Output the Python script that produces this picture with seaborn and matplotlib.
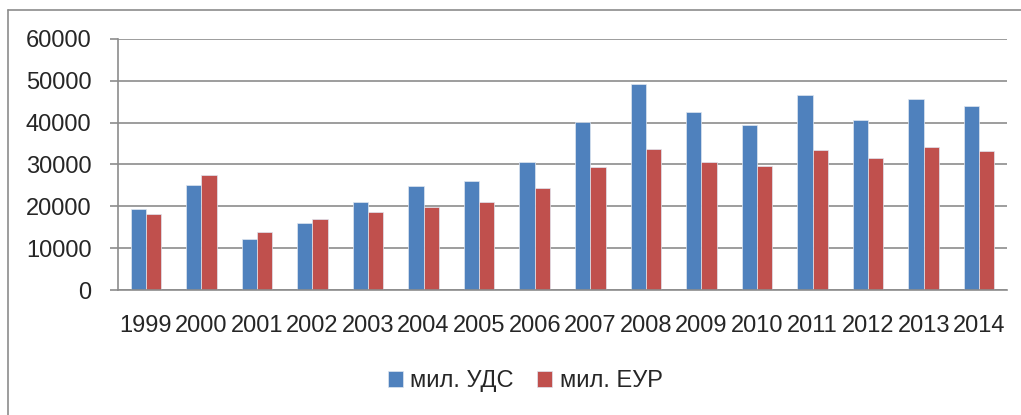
import numpy as np
import pandas as pd
import matplotlib
matplotlib.use('Agg')
import matplotlib.pyplot as plt
import seaborn as sns
from matplotlib.lines import Line2D
from matplotlib.ticker import FixedLocator

# Данные
years = ['1999', '2000', '2001', '2002', '2003', '2004', '2005', '2006',
         '2007', '2008', '2009', '2010', '2011', '2012', '2013', '2014']
usd = [19400, 25000, 12300, 16050, 21100, 24750, 26100, 30600,
       40250, 49200, 42650, 39400, 46500, 40750, 45550, 44100]
eur = [18200, 27400, 13750, 17000, 18700, 19950, 21100, 24450,
       29400, 33700, 30600, 29700, 33400, 31650, 34250, 33300]
series = ['мил. УДС', 'мил. ЕУР']
colors = ['#4F81BD', '#C0504D']

df = pd.DataFrame({'year': years * 2,
                   'value': usd + eur,
                   'series': [series[0]] * len(years) + [series[1]] * len(years)})

sns.set_style('white')
plt.rcParams['font.family'] = ['Liberation Sans', 'DejaVu Sans']

W, H = 1021, 415
fig = plt.figure(figsize=(W / 100, H / 100), dpi=100)
ax = fig.add_axes([118 / W, 1 - 290 / H, (1007 - 118) / W, (290 - 39) / H])

sns.barplot(data=df, x='year', y='value', hue='series', palette=colors,
            width=0.55, gap=0, saturation=1, ax=ax, legend=True,
            edgecolor='#dfe6f0', linewidth=0.5)

ax.set_ylim(0, 60000)
ax.set_xlim(-0.5, len(years) - 0.5)
ax.set_yticks(np.arange(0, 60001, 10000))
ax.yaxis.grid(True, color='#8c8c8c', linewidth=1.2)
ax.set_axisbelow(True)
ax.set_xlabel('')
ax.set_ylabel('')

for s in ['top', 'right']:
    ax.spines[s].set_visible(False)
for s in ['left', 'bottom']:
    ax.spines[s].set_color('#8c8c8c')
    ax.spines[s].set_linewidth(1.2)

# деления на границах категорий
ax.xaxis.set_minor_locator(FixedLocator(np.arange(-0.5, len(years), 1)))
ax.tick_params(axis='x', which='major', length=0, labelsize=17, pad=18)
ax.tick_params(axis='x', which='minor', length=6, width=1.2, color='#8c8c8c', direction='out')
ax.tick_params(axis='y', which='major', length=6, width=1.2, color='#8c8c8c',
               labelsize=17, pad=13, left=True)

# легенда внизу
handles, labels = ax.get_legend_handles_labels()
ax.legend_.remove()
fig.legend(handles, labels, loc='center', bbox_to_anchor=(525 / W, 1 - 381 / H),
           ncol=2, frameon=False, fontsize=17, handlelength=0.65, handleheight=0.65,
           handletextpad=0.3, columnspacing=1.0)

# рамка диаграммы
fig.add_artist(Line2D([8 / W, 8 / W], [0, 1 - 10 / H], color='#8c8c8c', lw=1.2))
fig.add_artist(Line2D([8 / W, 1], [1 - 10 / H, 1 - 10 / H], color='#8c8c8c', lw=1.2))

fig.savefig('out.png', dpi=100)
